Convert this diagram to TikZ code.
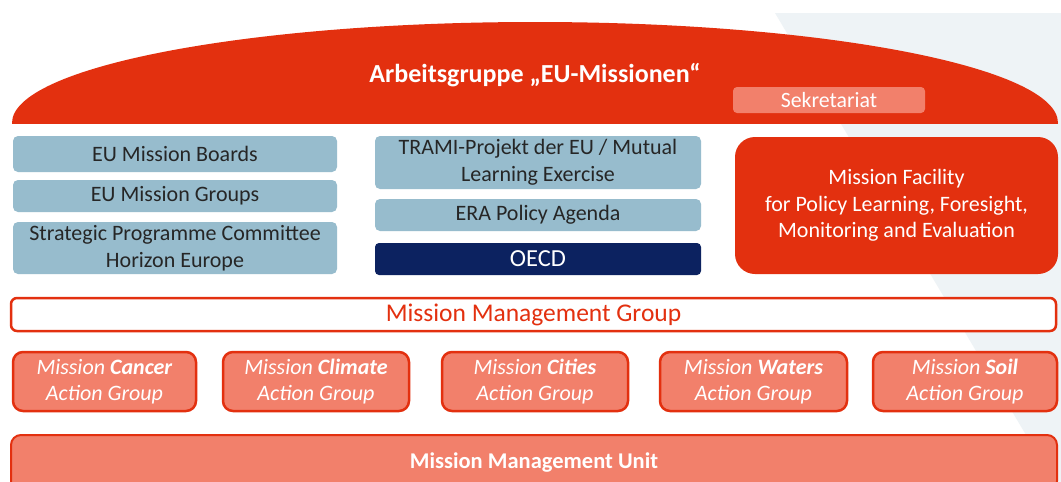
\documentclass[tikz,border=0pt]{standalone}
\usepackage{fontspec}
\setmainfont{Carlito}
\definecolor{eured}{HTML}{E3300F}
\definecolor{salmon}{HTML}{F2806B}
\definecolor{eublue}{HTML}{97BCCD}
\definecolor{navy}{HTML}{0C2260}
\definecolor{bgl}{HTML}{EEF3F6}
\definecolor{txtdark}{HTML}{262626}
\begin{document}
\begin{tikzpicture}[x=1pt,y=-1pt,
  every node/.style={inner sep=0pt,outer sep=0pt,align=center,font=\fontsize{22}{26.5}\selectfont},
  bluebox/.style={fill=eublue,rounded corners=5pt,text=txtdark,minimum width=324pt},
  midbox/.style={fill=eublue,rounded corners=5pt,text=txtdark,minimum width=326pt},
  groupbox/.style={fill=salmon,draw=eured,line width=2.5pt,rounded corners=10pt,text=white,minimum height=59pt}]
\useasboundingbox (0,0) rectangle (1061,482);
\fill[white] (0,0) rectangle (1061,482);
% light background wedge
\fill[bgl] (775,13) -- (1061,13) -- (1061,482) -- (1054,482) -- cycle;
% dome
\begin{scope}
  \clip (0,0) rectangle (1061,123);
  \fill[eured] (535,123) ellipse [x radius=523pt, y radius=101pt];
\end{scope}
\node[text=white,font=\fontsize{26}{30}\selectfont\bfseries] (ag) at (535,75) {Arbeitsgruppe „EU-Missionen“};
\node[fill=salmon,rounded corners=4pt,text=white,minimum width=192pt,minimum height=26pt,font=\fontsize{21.8}{24}\selectfont] (sek) at (829,100) {Sekretariat};
% left column
\node[bluebox,minimum height=36pt] (boards) at (175,154) {EU Mission Boards};
\node[bluebox,minimum height=32pt] (groups) at (175,196) {EU Mission Groups};
\node[bluebox,minimum height=52pt] (spc) at (175,248) {Strategic Programme Committee\\Horizon Europe};
% middle column
\node[midbox,minimum height=53pt] (trami) at (538,162.5) {TRAMI-Projekt der EU / Mutual\\Learning Exercise};
\node[midbox,minimum height=32pt] (era) at (538,215) {ERA Policy Agenda};
\node[fill=navy,rounded corners=4pt,text=white,minimum width=326pt,minimum height=32pt,font=\fontsize{24.5}{28}\selectfont] (oecd) at (538,259) {OECD};
% facility
\node[fill=eured,rounded corners=20pt,text=white,minimum width=323pt,minimum height=137pt] (fac) at (896.5,205.5) {Mission Facility\\for Policy Learning, Foresight,\\Monitoring and Evaluation};
% management group
\node[fill=white,draw=eured,line width=2.5pt,rounded corners=6pt,text=eured,minimum width=1045pt,minimum height=33pt,font=\fontsize{25.5}{28}\selectfont] (mmg) at (533.5,314.5) {Mission Management Group};
% action groups
\node[groupbox,minimum width=183pt] (cancer) at (104.5,381.5) {\textit{Mission \textbf{Cancer}}\\\textit{Action Group}};
\node[groupbox,minimum width=186pt] (climate) at (316,381.5) {\textit{Mission \textbf{Climate}}\\\textit{Action Group}};
\node[groupbox,minimum width=186pt] (cities) at (535,381.5) {\textit{Mission \textbf{Cities}}\\\textit{Action Group}};
\node[groupbox,minimum width=187pt] (waters) at (753.5,381.5) {\textit{Mission \textbf{Waters}}\\\textit{Action Group}};
\node[groupbox,minimum width=184pt] (soil) at (965,381.5) {\textit{Mission \textbf{Soil}}\\\textit{Action Group}};
% management unit
\node[fill=salmon,draw=eured,line width=2pt,rounded corners=10pt,text=white,minimum width=1046pt,minimum height=56pt,font=\fontsize{22.5}{26}\selectfont\bfseries] (mmu) at (534,463) {Mission Management Unit};
\end{tikzpicture}
\end{document}
